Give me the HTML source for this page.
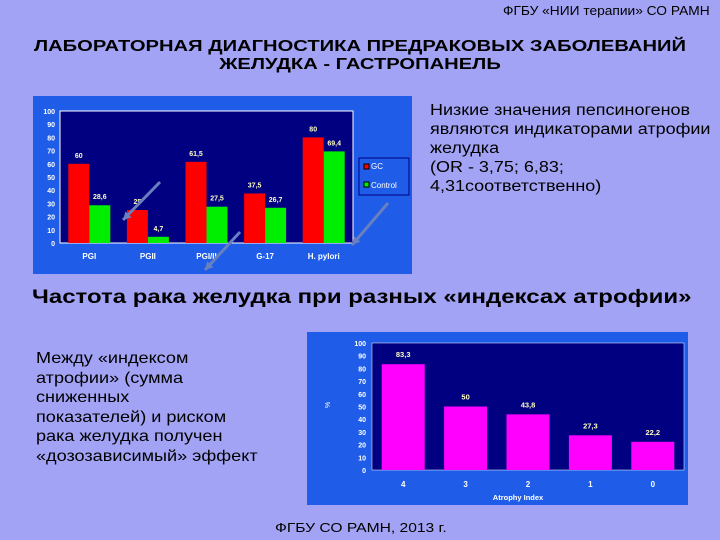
<!DOCTYPE html>
<html><head><meta charset="utf-8"><style>
body{margin:0;width:720px;height:540px;background:#a3a3f5;position:relative;overflow:hidden;font-family:"Liberation Sans",sans-serif}
.t{position:absolute;color:#000;white-space:nowrap;transform-origin:0 0}
</style></head><body>
<div class="t" style="left:503px;top:4px;font-size:12.5px;transform:scaleX(1.1)">ФГБУ «НИИ терапии» СО РАМН</div>
<div class="t" style="left:0;width:720px;top:38px;text-align:center;font-size:16px;font-weight:bold;line-height:18px;transform-origin:360px 0;transform:scaleX(1.26)">ЛАБОРАТОРНАЯ ДИАГНОСТИКА ПРЕДРАКОВЫХ ЗАБОЛЕВАНИЙ<br>ЖЕЛУДКА - ГАСТРОПАНЕЛЬ</div>
<div class="t" style="left:430px;top:101px;font-size:15.5px;line-height:19px;transform:scaleX(1.16)">Низкие значения пепсиногенов<br>являются индикаторами атрофии<br>желудка<br>(OR - 3,75; 6,83;<br>4,31соответственно)</div>
<div class="t" style="left:32px;top:286px;font-size:19.5px;font-weight:bold;transform:scaleX(1.23)">Частота рака желудка при разных «индексах атрофии»</div>
<div class="t" style="left:36px;top:349px;font-size:16px;line-height:19.5px;transform:scaleX(1.13)">Между «индексом<br>атрофии» (сумма<br>сниженных<br>показателей) и риском<br>рака желудка получен<br>«дозозависимый» эффект</div>
<div class="t" style="left:275px;top:520px;font-size:13px;transform:scaleX(1.2)">ФГБУ СО РАМН, 2013 г.</div>
<svg id="c1" style="position:absolute;left:0;top:0" width="720" height="540"></svg>
<script>
const cats1=["PGI","PGII","PGI/II","G-17","H. pylori"];
const gc=[60,25,61.5,37.5,80];
const ctrl=[28.6,4.7,27.5,26.7,69.4];
const gcLbl=["60","25","61,5","37,5","80"];
const ctrlLbl=["28,6","4,7","27,5","26,7","69,4"];
const cats2=["4","3","2","1","0"];
const vals2=[83.3,50,43.8,27.3,22.2];
const lbl2=["83,3","50","43,8","27,3","22,2"];
const ticks=[0,10,20,30,40,50,60,70,80,90,100];
const NS="http://www.w3.org/2000/svg";
const svg=document.getElementById('c1');
function el(t,a,txt){const e=document.createElementNS(NS,t);for(const k in a)e.setAttribute(k,a[k]);if(txt!==undefined)e.textContent=txt;svg.appendChild(e);return e;}
let p=el('rect',{x:33,y:96,width:379,height:178,fill:'#1f5de8'});

const L1=60,R1=353,T1=111,B1=243;
el('rect',{x:L1,y:T1,width:R1-L1,height:B1-T1,fill:'#000080',stroke:'#fff','stroke-width':1});
const y1=v=>B1-(B1-T1)*v/100;
ticks.forEach(t=>{let e=el('text',{x:L1-5,y:y1(t)+3,'text-anchor':'end','font-size':7,'font-weight':'bold',fill:'#fff'},t);});
const g1=(R1-L1)/cats1.length;
cats1.forEach((c,i)=>{
 const cx=L1+g1*(i+0.5),bw=21;
 let r=el('rect',{x:cx-bw,y:y1(gc[i]),width:bw,height:B1-y1(gc[i]),fill:'#ff0000'});
 
 let g=el('rect',{x:cx,y:y1(ctrl[i]),width:bw,height:B1-y1(ctrl[i]),fill:'#00ee00'});
 
 el('text',{x:cx-bw/2,y:y1(gc[i])-6,'text-anchor':'middle','font-size':7,'font-weight':'bold',fill:'#ffffc0'},gcLbl[i]);
 el('text',{x:cx+bw/2,y:y1(ctrl[i])-6,'text-anchor':'middle','font-size':7,'font-weight':'bold',fill:'#ffffc0'},ctrlLbl[i]);
 let x=el('text',{x:cx,y:B1+16,'text-anchor':'middle','font-size':8,'font-weight':'bold',fill:'#fff'},c);
 
});
let lg=el('rect',{x:359,y:158,width:50,height:37,fill:'#1f5de8',stroke:'#000080'});

el('rect',{x:364,y:164,width:5,height:5,fill:'#ff0000',stroke:'#000'});
el('text',{x:371,y:169,'font-size':8,fill:'#fff'},'GC');
el('rect',{x:364,y:182,width:5,height:5,fill:'#00ee00',stroke:'#000'});
el('text',{x:371,y:188,'font-size':8,fill:'#fff'},'Control');
[[160,182,123,220],[240,232,205,270],[388,203,352,245]].forEach(a=>{
 el('line',{x1:a[0],y1:a[1],x2:a[2],y2:a[3],stroke:'#6a7fc0','stroke-width':3});
 const ang=Math.atan2(a[3]-a[1],a[2]-a[0]);
 const h=9;
 el('polygon',{points:`${a[2]},${a[3]} ${a[2]-h*Math.cos(ang-0.5)},${a[3]-h*Math.sin(ang-0.5)} ${a[2]-h*Math.cos(ang+0.5)},${a[3]-h*Math.sin(ang+0.5)}`,fill:'#6a7fc0'});
});
let p2=el('rect',{x:307,y:332,width:381,height:173,fill:'#1f5de8'});

const L2=372,R2=684,T2=343,B2=470;
el('rect',{x:L2,y:T2,width:R2-L2,height:B2-T2,fill:'#000080',stroke:'#fff','stroke-width':0.5});
const y2=v=>B2-(B2-T2)*v/100;
ticks.forEach(t=>{let e=el('text',{x:L2-6,y:y2(t)+3,'text-anchor':'end','font-size':7,'font-weight':'bold',fill:'#fff'},t);});
el('text',{x:330,y:408,'font-size':7,fill:'#fff',transform:'rotate(-90 330 408)'},'%');
const g2=(R2-L2)/cats2.length;
cats2.forEach((c,i)=>{
 const cx=L2+g2*(i+0.5),bw=43;
 let r=el('rect',{x:cx-bw/2,y:y2(vals2[i]),width:bw,height:B2-y2(vals2[i]),fill:'#ff00ff'});
 
 el('text',{x:cx,y:y2(vals2[i])-7,'text-anchor':'middle','font-size':7.5,'font-weight':'bold',fill:'#ffffc0'},lbl2[i]);
 let x=el('text',{x:cx,y:B2+17,'text-anchor':'middle','font-size':8,'font-weight':'bold',fill:'#fff'},c);
 
});
let xt=el('text',{x:(L2+R2)/2-10,y:500,'text-anchor':'middle','font-size':7.5,'font-weight':'bold',fill:'#fff'},'Atrophy Index');

</script>
</body></html>
